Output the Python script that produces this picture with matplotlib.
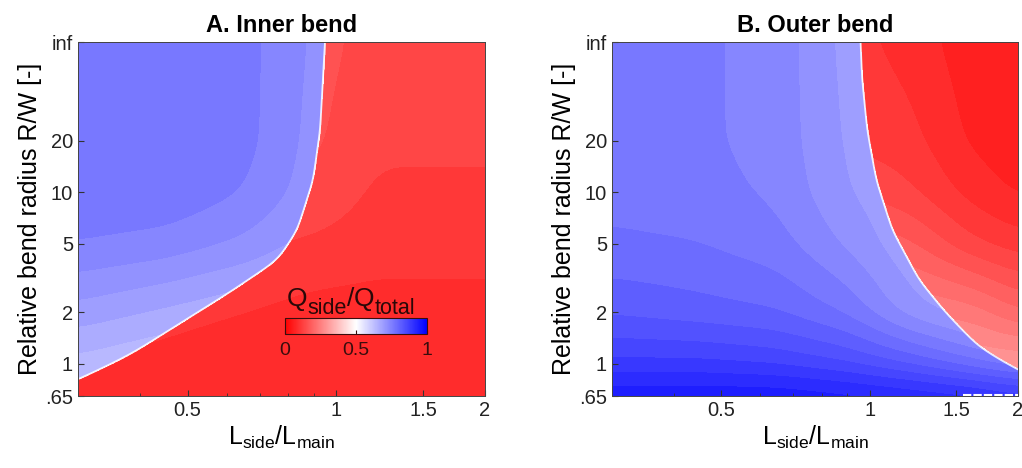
import numpy as np
import matplotlib
matplotlib.use("Agg")
import matplotlib.pyplot as plt
from matplotlib.ticker import FixedLocator, NullFormatter

plt.rcParams["font.family"] = ["Liberation Sans", "DejaVu Sans"]
plt.rcParams["mathtext.fontset"] = "custom"
plt.rcParams["mathtext.rm"] = "Liberation Sans"

# grid nodes (L_side/L_main and R/W; 75 stands for "inf")
x_nodes = [0.3, 0.45, 0.65, 0.9, 1.2, 1.6, 2.0]
r_nodes = [0.65, 1, 2, 5, 10, 20, 75]

# Q_side/Q_total, rows follow r_nodes, columns follow x_nodes
inner_side = [
    [0.62, 0.61, 0.60, 0.60, 0.60, 0.60, 0.60],
    [0.64, 0.62, 0.61, 0.60, 0.60, 0.60, 0.60],
    [0.69, 0.67, 0.65, 0.63, 0.62, 0.62, 0.62],
    [0.75, 0.74, 0.72, 0.69, 0.68, 0.68, 0.68],
    [0.77, 0.77, 0.75, 0.71, 0.70, 0.70, 0.70],
    [0.775, 0.775, 0.76, 0.715, 0.70, 0.70, 0.70],
    [0.77, 0.775, 0.76, 0.72, 0.70, 0.70, 0.70],
]
inner_main = [
    [0.08, 0.08, 0.08, 0.08, 0.08, 0.08, 0.08],
    [0.10, 0.09, 0.08, 0.08, 0.08, 0.08, 0.08],
    [0.12, 0.11, 0.10, 0.09, 0.09, 0.09, 0.09],
    [0.14, 0.14, 0.13, 0.12, 0.11, 0.11, 0.11],
    [0.15, 0.15, 0.15, 0.145, 0.12, 0.12, 0.12],
    [0.16, 0.16, 0.16, 0.155, 0.13, 0.13, 0.13],
    [0.17, 0.17, 0.17, 0.16, 0.14, 0.13, 0.13],
]
outer_side = [
    [0.95, 0.95, 0.95, 0.94, 0.93, 0.92, 0.90],
    [0.88, 0.88, 0.87, 0.85, 0.82, 0.78, 0.75],
    [0.82, 0.81, 0.80, 0.77, 0.71, 0.68, 0.66],
    [0.78, 0.775, 0.76, 0.72, 0.68, 0.66, 0.66],
    [0.765, 0.76, 0.745, 0.70, 0.68, 0.68, 0.68],
    [0.76, 0.755, 0.74, 0.695, 0.68, 0.68, 0.68],
    [0.76, 0.755, 0.74, 0.69, 0.68, 0.68, 0.68],
]
outer_main = [
    [0.30, 0.30, 0.30, 0.30, 0.30, 0.30, 0.30],
    [0.30, 0.30, 0.30, 0.30, 0.30, 0.30, 0.30],
    [0.25, 0.25, 0.25, 0.25, 0.25, 0.24, 0.20],
    [0.20, 0.20, 0.20, 0.20, 0.18, 0.13, 0.11],
    [0.15, 0.15, 0.15, 0.15, 0.13, 0.09, 0.07],
    [0.12, 0.12, 0.12, 0.12, 0.11, 0.07, 0.06],
    [0.11, 0.11, 0.11, 0.11, 0.09, 0.06, 0.05],
]

# switch line (Q_side/Q_total = 0.5)
inner_line_r = [0.65, 0.81, 1.13, 2.69, 3.15, 4.0, 6.0, 11.7, 22.9, 75]
inner_line_x = [0.25, 0.30, 0.382, 0.618, 0.669, 0.759, 0.833, 0.897, 0.927, 0.949]
outer_line_r = [0.65, 0.92, 1.25, 1.97, 3.07, 6.0, 11.7, 22.9, 44.7, 75]
outer_line_x = [2.6, 2.0, 1.668, 1.431, 1.261, 1.112, 1.032, 0.989, 0.966, 0.958]

# white dashes along the bottom edge of panel B
outer_dash_x = [1.55, 2.0]

y_ticks = [0.65, 1, 2, 5, 10, 20, 75]
y_labels = [".65", "1", "2", "5", "10", "20", "inf"]
x_ticks = [0.5, 1, 1.5, 2]
x_labels = ["0.5", "1", "1.5", "2"]

xf = np.geomspace(0.3, 2.0, 500)
rf = np.geomspace(0.65, 75, 500)


def blur(a, s, axis):
    k = np.exp(-0.5 * (np.arange(-3 * s, 3 * s + 1) / s) ** 2)
    k /= k.sum()
    pad = [(3 * s, 3 * s) if i == axis else (0, 0) for i in range(a.ndim)]
    a = np.pad(a, pad, mode="edge")
    return np.apply_along_axis(lambda v: np.convolve(v, k, mode="valid"), axis, a)


def regrid(table):
    t = np.array(table, dtype=float)
    lx, lr = np.log(x_nodes), np.log(r_nodes)
    rows = np.array([np.interp(np.log(xf), lx, row) for row in t])
    z = np.array([np.interp(np.log(rf), lr, col) for col in rows.T]).T
    return blur(blur(z, 18, 0), 18, 1)


def switch_line(line_x, line_r):
    lxb = np.interp(np.log(rf), np.log(line_r), np.log(line_x))
    return np.exp(blur(lxb, 10, 0))


fig = plt.figure(figsize=(10.22, 4.68), dpi=100)
axA = fig.add_axes([0.0763, 0.1538, 0.3983, 0.7564])
axB = fig.add_axes([0.5988, 0.1538, 0.3973, 0.7564])
levels = np.linspace(0, 1, 41)

panels = [
    (axA, inner_side, inner_main, inner_line_x, inner_line_r, "A. Inner bend"),
    (axB, outer_side, outer_main, outer_line_x, outer_line_r, "B. Outer bend"),
]
for ax, side, main, lx, lr, title in panels:
    xb = switch_line(lx, lr)
    z = np.where(xf[None, :] < xb[:, None], regrid(side), regrid(main))
    ax.contourf(xf, rf, z, levels=levels, cmap="bwr_r", vmin=0, vmax=1)
    ax.plot(xb, rf, color="white", lw=1.3, alpha=0.85)
    ax.set_xscale("log")
    ax.set_yscale("log")
    ax.set_xlim(0.3, 2.0)
    ax.set_ylim(0.65, 75)
    ax.xaxis.set_major_locator(FixedLocator(x_ticks))
    ax.set_xticklabels(x_labels)
    ax.xaxis.set_minor_formatter(NullFormatter())
    ax.yaxis.set_major_locator(FixedLocator(y_ticks))
    ax.set_yticklabels(y_labels)
    ax.yaxis.set_minor_locator(FixedLocator([]))
    ax.tick_params(which="both", direction="in", labelsize=14.5, colors="#333333",
                   labelcolor="#222222")
    ax.tick_params(which="major", length=4)
    ax.tick_params(which="minor", length=2)
    for s in ax.spines.values():
        s.set_color("#444444")
        s.set_linewidth(0.7)
    ax.set_title(title, fontsize=17, fontweight="bold", pad=7)
    ax.set_xlabel(r"L$_{\mathrm{side}}$/L$_{\mathrm{main}}$", fontsize=18, labelpad=3)
    ax.set_ylabel("Relative bend radius R/W [-]", fontsize=18, labelpad=2)

axB.plot(outer_dash_x, [0.66, 0.66], color="white", lw=1.5, ls=(0, (4, 1)))

# colorbar inside panel A
cax = fig.add_axes([0.2789, 0.2863, 0.139, 0.034])
cb = fig.colorbar(plt.cm.ScalarMappable(cmap="bwr_r", norm=plt.Normalize(0, 1)),
                  cax=cax, orientation="horizontal", ticks=[0, 0.5, 1])
cb.ax.set_xticklabels(["0", "0.5", "1"])
cb.ax.tick_params(direction="in", length=3, labelsize=14, pad=6, colors="#3a0d0d")
cb.outline.set_edgecolor("#3a0d0d")
cb.outline.set_linewidth(0.8)

# Q_side/Q_total written piece by piece so the subscripts stay large
tc = "#2a0808"
parts = [("Q", 19, 0), ("side", 15.5, -6), ("/", 19, 0), ("Q", 19, 0), ("total", 15.5, -6)]
renderer = fig.canvas.get_renderer()
x0, y0 = fig.transFigure.transform((0.2805, 0.347))
x_cur = x0
for s, size, dy in parts:
    tt = fig.text(x_cur / fig.bbox.width, (y0 + dy * fig.dpi / 72) / fig.bbox.height, s,
                  fontsize=size, color=tc, va="baseline")
    x_cur = tt.get_window_extent(renderer).x1

fig.savefig("out.png", dpi=100)
